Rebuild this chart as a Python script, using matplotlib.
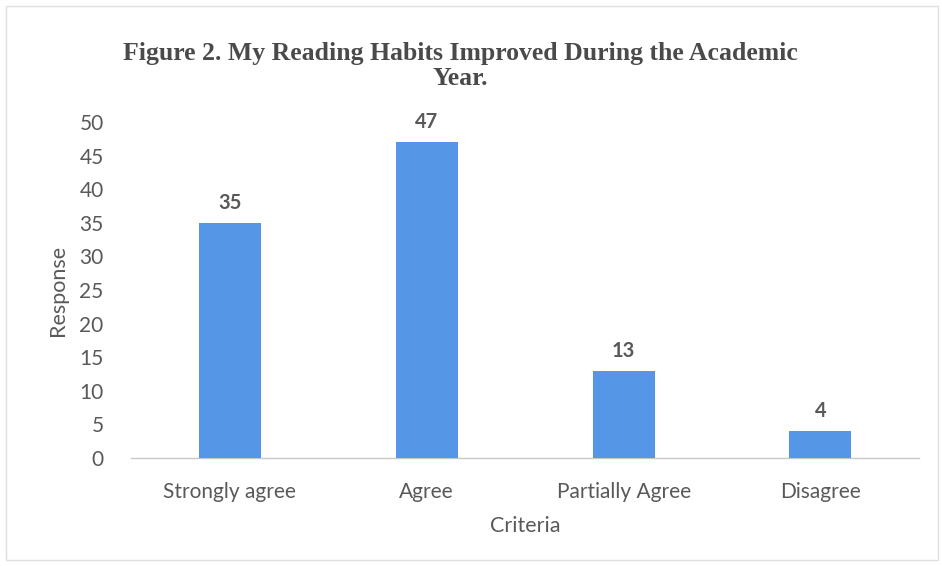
import matplotlib.pyplot as plt
from matplotlib.patches import Rectangle

criteria = ["Strongly agree", "Agree", "Partially Agree", "Disagree"]
responses = [35, 47, 13, 4]
yticks = [0, 5, 10, 15, 20, 25, 30, 35, 40, 45, 50]

txtColor = "#595959"
barColor = "#5596E6"

fig = plt.figure(figsize=[9.42, 5.66], dpi=100)
ax = fig.add_axes([0.1395, 0.1908, 0.836, 0.5937])

xs = range(len(criteria))
bars = ax.bar(xs, responses, width=0.315, color=barColor, zorder=3)
for x, v in zip(xs, responses):
    ax.text(x, v + 1.5, str(v), ha="center", va="bottom", fontsize=14.5,
            color=txtColor, family="Lato", fontweight="bold", clip_on=False)

ax.set_xlim(-0.5, 3.5)
ax.set_ylim(0, 50)
ax.set_yticks(yticks)
ax.set_xticks(list(xs))
ax.set_xticklabels(criteria)
ax.tick_params(axis="both", length=0, labelsize=15, labelcolor=txtColor)
ax.tick_params(axis="y", pad=20)
ax.tick_params(axis="x", pad=17)
for lab in ax.get_xticklabels() + ax.get_yticklabels():
    lab.set_family("Lato")

for s in ["top", "right", "left"]:
    ax.spines[s].set_visible(False)
ax.spines["bottom"].set_color("#c8c8c8")
ax.spines["bottom"].set_linewidth(1)
ax.spines["bottom"].set_linestyle((0, (2, 1)))

ax.set_xlabel("Criteria", fontsize=15.5, color=txtColor, family="Lato", labelpad=10)
ax.set_ylabel("Response", fontsize=15.5, color=txtColor, family="Lato", labelpad=8)

fig.text(0.489, 0.884, "Figure 2. My Reading Habits Improved During the Academic\nYear.",
         ha="center", va="center", fontsize=18.5, fontweight="bold", color="#4a4a4a",
         family="Liberation Serif", linespacing=1.1)

# faint outer border of the chart
fig.patches.append(Rectangle((0.006, 0.01), 0.99, 0.98, transform=fig.transFigure,
                             fill=False, edgecolor="#e0e0e0", linewidth=1))

plt.savefig("out.png", dpi=100)
